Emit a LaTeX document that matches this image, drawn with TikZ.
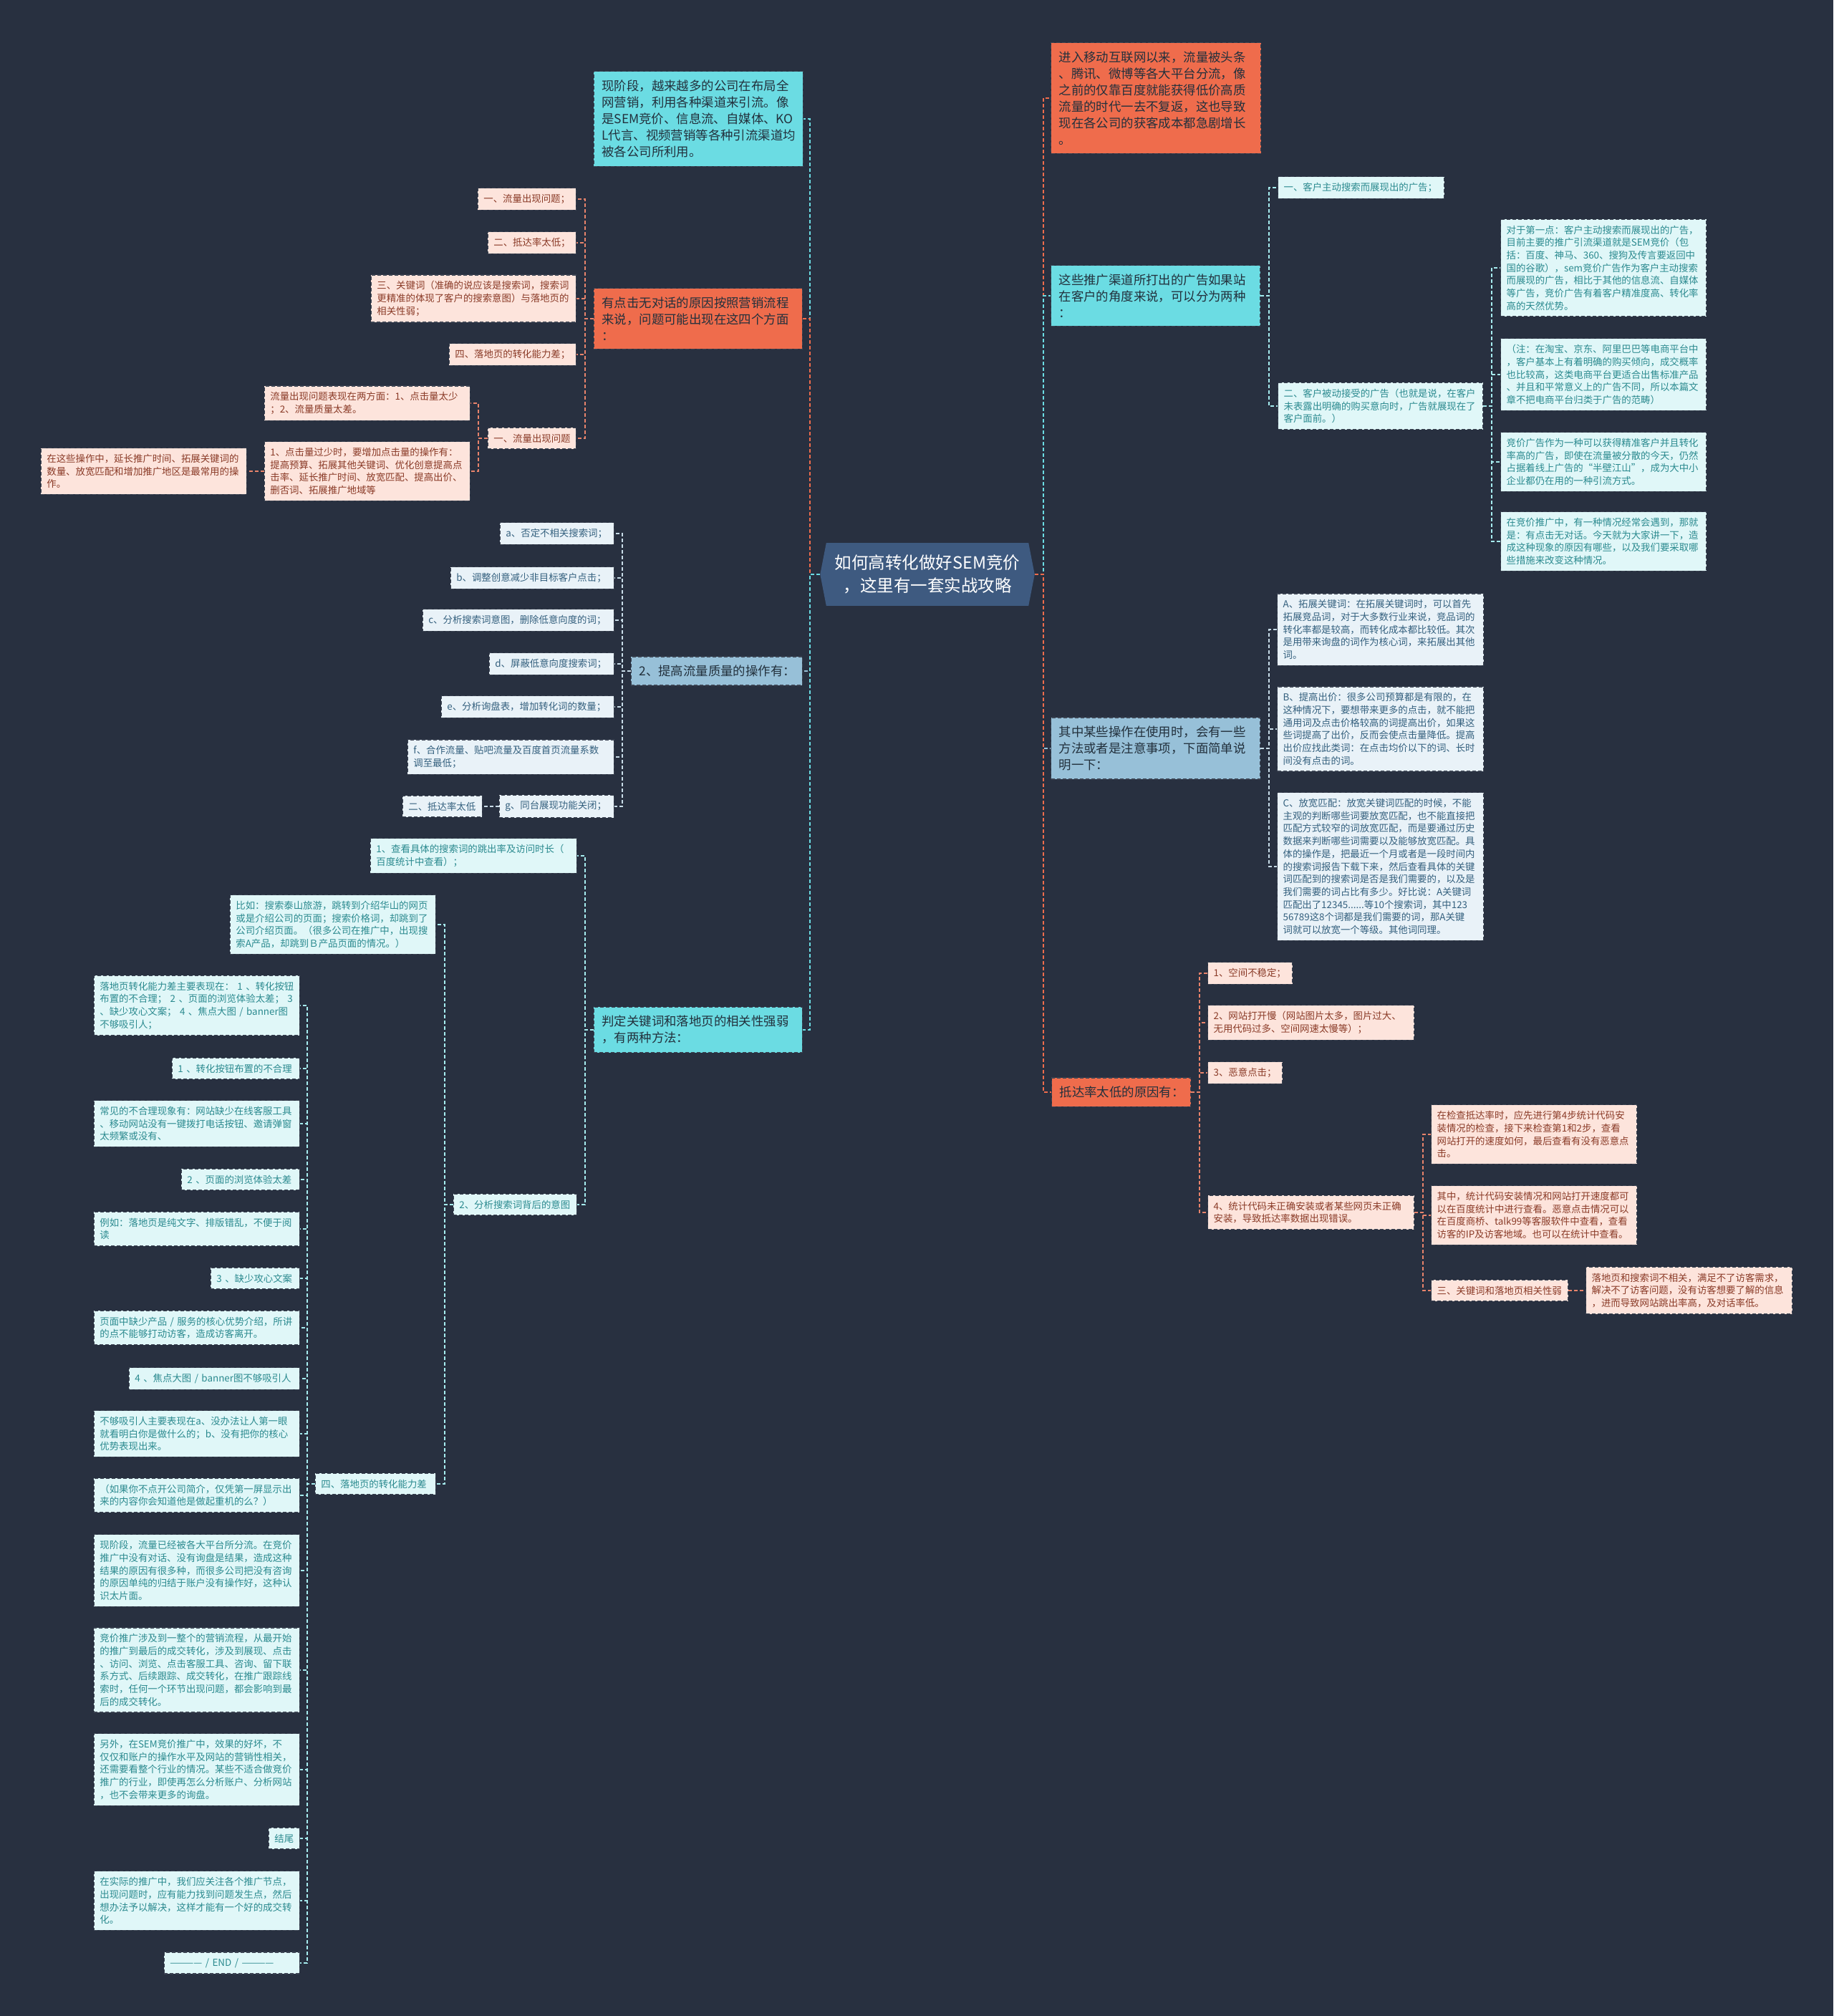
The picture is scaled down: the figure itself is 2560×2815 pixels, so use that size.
\documentclass[tikz,border=0pt]{standalone}
\usepackage{fontspec}
\setmainfont{Noto Sans CJK SC}
\usetikzlibrary{shapes.symbols,positioning}

\definecolor{bgc}{HTML}{283040}
\definecolor{rootc}{HTML}{3E5A80}
\definecolor{rimc}{HTML}{3B4352}
\definecolor{cyanM}{HTML}{6BDCE3}
\definecolor{orgM}{HTML}{EF6C4C}
\definecolor{bluM}{HTML}{97C0D8}
\definecolor{mainT}{HTML}{22303C}
\definecolor{cyanL}{HTML}{E0F7F8}
\definecolor{pinkL}{HTML}{FDE4DC}
\definecolor{bluL}{HTML}{E9F2F8}
\definecolor{cyanT}{HTML}{2B8A8F}
\definecolor{pinkT}{HTML}{8A3A27}
\definecolor{bluT}{HTML}{34607E}
\definecolor{cyanE}{HTML}{A6ECEF}
\definecolor{orgE}{HTML}{E8836B}
\definecolor{bluE}{HTML}{C8DCE8}

\tikzset{
  tw/.style={text width=#1pt},
  root/.style={signal, signal to=west and east, signal pointer angle=158, fill=rootc,
    text=white, align=center, inner xsep=12pt, inner ysep=17pt,
    font=\fontsize{23.5}{31.5}\selectfont},
  main/.style={draw=rimc, dash pattern=on 5pt off 3pt, line width=1.2pt, align=left,
    inner xsep=11pt, inner ysep=12pt, text=mainT, font=\fontsize{17.4}{23}\selectfont},
  mcyan/.style={main, fill=cyanM},
  morg/.style={main, fill=orgM},
  mblu/.style={main, fill=bluM},
  leaf/.style={draw=rimc, dash pattern=on 5pt off 3pt, line width=1.2pt, align=left,
    inner xsep=8pt, inner ysep=8.5pt, font=\fontsize{13.4}{17.7}\selectfont},
  lcyan/.style={leaf, fill=cyanL, text=cyanT},
  lpink/.style={leaf, fill=pinkL, text=pinkT},
  lblu/.style={leaf, fill=bluL, text=bluT},
  link/.style={dash pattern=on 5pt off 3pt, line width=1.7pt},
  ccyan/.style={link, draw=cyanM},
  corg/.style={link, draw=orgM},
  cblu/.style={link, draw=bluM},
  ecyan/.style={link, draw=cyanE},
  eorg/.style={link, draw=orgE},
  eblu/.style={link, draw=bluE}
}

\begin{document}
\begin{tikzpicture}[x=1pt, y=-1pt]
\fill[bgc] (0,0) rectangle (2560,2815);
\useasboundingbox (0,0) rectangle (2560,2815);

\node[root] (Root) at (1295,802) {如何高转化做好SEM竞价\\，这里有一套实战攻略};

\node[mcyan, tw=270, anchor=east] (M1) at (1122,166) {现阶段，越来越多的公司在布局全\\网营销，利用各种渠道来引流。像\\是SEM竞价、信息流、自媒体、KO\\L代言、视频营销等各种引流渠道均\\被各公司所利用。};
\draw[ccyan] (Root.west) -- ++(-14,0) |- (M1.east);

\node[morg, tw=269, anchor=east] (M2) at (1121,445) {有点击无对话的原因按照营销流程\\来说，问题可能出现在这四个方面\\：};
\draw[corg] (Root.west) -- ++(-14,0) |- (M2.east);
\node[lpink, tw=121, anchor=east] (P1) at (805,278) {一、流量出现问题；};
\node[lpink, tw=107, anchor=east] (P2) at (805,339) {二、抵达率太低；};
\node[lpink, tw=270, anchor=east] (P3) at (805,417) {三、关键词（准确的说应该是搜索词，搜索词\\更精准的体现了客户的搜索意图）与落地页的\\相关性弱；};
\node[lpink, tw=161, anchor=east] (P4) at (805,495) {四、落地页的转化能力差；};
\node[lpink, tw=107, anchor=east] (P5) at (805,612) {一、流量出现问题};
\foreach \n in {P1,P2,P3,P4,P5}
  \draw[eorg] (M2.west) -- ++(-12,0) |- (\n.east);
\node[lpink, tw=271, anchor=east] (P5a) at (657,563) {流量出现问题表现在两方面：1、点击量太少\\；2、流量质量太差。};
\node[lpink, tw=271, anchor=east] (P5b) at (657,658) {1、点击量过少时，要增加点击量的操作有：\\提高预算、拓展其他关键词、优化创意提高点\\击率、延长推广时间、放宽匹配、提高出价、\\删否词、拓展推广地域等};
\draw[eorg] (P5.west) -- ++(-13,0) |- (P5a.east);
\draw[eorg] (P5.west) -- ++(-13,0) |- (P5b.east);
\node[lpink, tw=271, anchor=east] (P5c) at (345,658) {在这些操作中，延长推广时间、拓展关键词的\\数量、放宽匹配和增加推广地区是最常用的操\\作。};
\draw[eorg] (P5b.west) -- (P5c.east);

\node[mblu, tw=217, anchor=east] (M3) at (1121,937) {2、提高流量质量的操作有：};
\draw[cblu] (Root.west) -- ++(-14,0) |- (M3.east);
\node[lblu, tw=143, anchor=east] (Ga) at (858,745) {a、否定不相关搜索词；};
\node[lblu, tw=212, anchor=east] (Gb) at (858,807) {b、调整创意减少非目标客户点击；};
\node[lblu, tw=251, anchor=east] (Gc) at (858,866) {c、分析搜索词意图，删除低意向度的词；};
\node[lblu, tw=158, anchor=east] (Gd) at (858,927) {d、屏蔽低意向度搜索词；};
\node[lblu, tw=225, anchor=east] (Ge) at (858,987) {e、分析询盘表，增加转化词的数量；};
\node[lblu, tw=272, anchor=east] (Gf) at (858,1057) {f、合作流量、贴吧流量及百度首页流量系数\\调至最低；};
\node[lblu, tw=144, anchor=east] (Gg) at (858,1126) {g、同台展现功能关闭；};
\foreach \n in {Ga,Gb,Gc,Gd,Ge,Gf,Gg}
  \draw[eblu] (M3.west) -- ++(-12,0) |- (\n.east);
\node[lblu, tw=95, anchor=east] (Gh) at (674,1126) {二、抵达率太低};
\draw[eblu] (Gg.west) -- (Gh.east);

\node[mcyan, tw=269, anchor=east] (M4) at (1121,1438) {判定关键词和落地页的相关性强弱\\，有两种方法：};
\draw[ccyan] (Root.west) -- ++(-14,0) |- (M4.east);
\node[lcyan, tw=272, anchor=east] (Q1) at (806,1195) {1、查看具体的搜索词的跳出率及访问时长（\\百度统计中查看）；};
\node[lcyan, tw=156, anchor=east] (Q2) at (806,1682) {2、分析搜索词背后的意图};
\draw[ecyan] (M4.west) -- ++(-12,0) |- (Q1.east);
\draw[ecyan] (M4.west) -- ++(-12,0) |- (Q2.east);
\node[lcyan, tw=271, anchor=east] (Q2a) at (609,1291) {比如：搜索泰山旅游，跳转到介绍华山的网页\\或是介绍公司的页面；搜索价格词，却跳到了\\公司介绍页面。（很多公司在推广中，出现搜\\索A产品，却跳到Ｂ产品页面的情况。）};
\node[lcyan, tw=152, anchor=east] (Q2b) at (609,2072) {四、落地页的转化能力差};
\draw[ecyan] (Q2.west) -- ++(-12,0) |- (Q2a.east);
\draw[ecyan] (Q2.west) -- ++(-12,0) |- (Q2b.east);

\node[lcyan, tw=271, anchor=east] (L1) at (419,1404) {落地页转化能力差主要表现在： 1 、转化按钮\\布置的不合理； 2 、页面的浏览体验太差； 3\\、缺少攻心文案； 4 、焦点大图 / banner图\\不够吸引人；};
\node[lcyan, tw=162, anchor=east] (L2) at (419,1492) {1 、转化按钮布置的不合理};
\node[lcyan, tw=271, anchor=east] (L3) at (419,1569) {常见的不合理现象有：网站缺少在线客服工具\\、移动网站没有一键拨打电话按钮、邀请弹窗\\太频繁或没有、};
\node[lcyan, tw=149, anchor=east] (L4) at (419,1647) {2 、页面的浏览体验太差};
\node[lcyan, tw=271, anchor=east] (L5) at (419,1716) {例如：落地页是纯文字、排版错乱，不便于阅\\读};
\node[lcyan, tw=108, anchor=east] (L6) at (419,1785) {3 、缺少攻心文案};
\node[lcyan, tw=271, anchor=east] (L7) at (419,1854) {页面中缺少产品 / 服务的核心优势介绍，所讲\\的点不能够打动访客，造成访客离开。};
\node[lcyan, tw=222, anchor=east] (L8) at (419,1925) {4 、焦点大图 / banner图不够吸引人};
\node[lcyan, tw=271, anchor=east] (L9) at (419,2002) {不够吸引人主要表现在a、没办法让人第一眼\\就看明白你是做什么的；b、没有把你的核心\\优势表现出来。};
\node[lcyan, tw=271, anchor=east] (L10) at (419,2088) {（如果你不点开公司简介，仅凭第一屏显示出\\来的内容你会知道他是做起重机的么？）};
\node[lcyan, tw=271, anchor=east] (L11) at (419,2193) {现阶段，流量已经被各大平台所分流。在竞价\\推广中没有对话、没有询盘是结果，造成这种\\结果的原因有很多种，而很多公司把没有咨询\\的原因单纯的归结于账户没有操作好，这种认\\识太片面。};
\node[lcyan, tw=271, anchor=east] (L12) at (419,2332) {竞价推广涉及到一整个的营销流程，从最开始\\的推广到最后的成交转化，涉及到展现、点击\\、访问、浏览、点击客服工具、咨询、留下联\\系方式、后续跟踪、成交转化，在推广跟踪线\\索时，任何一个环节出现问题，都会影响到最\\后的成交转化。};
\node[lcyan, tw=271, anchor=east] (L13) at (419,2471) {另外，在SEM竞价推广中，效果的好坏，不\\仅仅和账户的操作水平及网站的营销性相关，\\还需要看整个行业的情况。某些不适合做竞价\\推广的行业，即使再怎么分析账户、分析网站\\，也不会带来更多的询盘。};
\node[lcyan, tw=27, anchor=east] (L14) at (419,2567) {结尾};
\node[lcyan, tw=271, anchor=east] (L15) at (419,2654) {在实际的推广中，我们应关注各个推广节点，\\出现问题时，应有能力找到问题发生点，然后\\想办法予以解决，这样才能有一个好的成交转\\化。};
\node[lcyan, tw=173, anchor=east] (L16) at (419,2741) {———— / END / ————};
\foreach \n in {L1,L2,L3,L4,L5,L6,L7,L8,L9,L10,L11,L12,L13,L14,L15,L16}
  \draw[ecyan] (Q2b.west) -- ++(-11,0) |- (\n.east);

\node[morg, tw=271, anchor=west] (R1) at (1467,137) {进入移动互联网以来，流量被头条\\、腾讯、微博等各大平台分流，像\\之前的仅靠百度就能获得低价高质\\流量的时代一去不复返，这也导致\\现在各公司的获客成本都急剧增长\\。};
\draw[corg] (Root.east) -- ++(12,0) |- (R1.west);

\node[mcyan, tw=270, anchor=west] (R2) at (1467,413) {这些推广渠道所打出的广告如果站\\在客户的角度来说，可以分为两种\\：};
\draw[ccyan] (Root.east) -- ++(12,0) |- (R2.west);
\node[lcyan, tw=216, anchor=west] (R21) at (1784,262) {一、客户主动搜索而展现出的广告；};
\node[lcyan, tw=270, anchor=west] (R22) at (1784,567) {二、客户被动接受的广告（也就是说，在客户\\未表露出明确的购买意向时，广告就展现在了\\客户面前。）};
\draw[ecyan] (R2.east) -- ++(12,0) |- (R21.west);
\draw[ecyan] (R2.east) -- ++(12,0) |- (R22.west);
\node[lcyan, tw=271, anchor=west] (R22a) at (2095,374) {对于第一点：客户主动搜索而展现出的广告，\\目前主要的推广引流渠道就是SEM竞价（包\\括：百度、神马、360、搜狗及传言要返回中\\国的谷歌），sem竞价广告作为客户主动搜索\\而展现的广告，相比于其他的信息流、自媒体\\等广告，竞价广告有着客户精准度高、转化率\\高的天然优势。};
\node[lcyan, tw=271, anchor=west] (R22b) at (2095,523) {（注：在淘宝、京东、阿里巴巴等电商平台中\\，客户基本上有着明确的购买倾向，成交概率\\也比较高，这类电商平台更适合出售标准产品\\、并且和平常意义上的广告不同，所以本篇文\\章不把电商平台归类于广告的范畴）};
\node[lcyan, tw=271, anchor=west] (R22c) at (2095,645) {竞价广告作为一种可以获得精准客户并且转化\\率高的广告，即使在流量被分散的今天，仍然\\占据着线上广告的“半壁江山”，成为大中小\\企业都仍在用的一种引流方式。};
\node[lcyan, tw=271, anchor=west] (R22d) at (2095,756) {在竞价推广中，有一种情况经常会遇到，那就\\是：有点击无对话。今天就为大家讲一下，造\\成这种现象的原因有哪些，以及我们要采取哪\\些措施来改变这种情况。};
\foreach \n in {R22a,R22b,R22c,R22d}
  \draw[ecyan] (R22.east) -- ++(12,0) |- (\n.west);

\node[mblu, tw=270, anchor=west] (R3) at (1467,1045) {其中某些操作在使用时，会有一些\\方法或者是注意事项，下面简单说\\明一下：};
\draw[cblu] (Root.east) -- ++(12,0) |- (R3.west);
\node[lblu, tw=272, anchor=west] (RA) at (1783,879) {A、拓展关键词：在拓展关键词时，可以首先\\拓展竞品词，对于大多数行业来说，竞品词的\\转化率都是较高，而转化成本都比较低。其次\\是用带来询盘的词作为核心词，来拓展出其他\\词。};
\node[lblu, tw=272, anchor=west] (RB) at (1783,1018) {B、提高出价：很多公司预算都是有限的，在\\这种情况下，要想带来更多的点击，就不能把\\通用词及点击价格较高的词提高出价，如果这\\些词提高了出价，反而会使点击量降低。提高\\出价应找此类词：在点击均价以下的词、长时\\间没有点击的词。};
\node[lblu, tw=272, anchor=west] (RC) at (1783,1210) {C、放宽匹配：放宽关键词匹配的时候，不能\\主观的判断哪些词要放宽匹配，也不能直接把\\匹配方式较窄的词放宽匹配，而是要通过历史\\数据来判断哪些词需要以及能够放宽匹配。具\\体的操作是，把最近一个月或者是一段时间内\\的搜索词报告下载下来，然后查看具体的关键\\词匹配到的搜索词是否是我们需要的，以及是\\我们需要的词占比有多少。好比说：A关键词\\匹配出了12345......等10个搜索词，其中123\\56789这8个词都是我们需要的词，那A关键\\词就可以放宽一个等级。其他词同理。};
\foreach \n in {RA,RB,RC}
  \draw[eblu] (R3.east) -- ++(12,0) |- (\n.west);

\node[morg, tw=172, anchor=west] (R4) at (1468,1525) {抵达率太低的原因有：};
\draw[corg] (Root.east) -- ++(12,0) |- (R4.west);
\node[lpink, tw=102, anchor=west] (S1) at (1686,1359) {1、空间不稳定；};
\node[lpink, tw=272, anchor=west] (S2) at (1686,1428) {2、网站打开慢（网站图片太多，图片过大、\\无用代码过多、空间网速太慢等）；};
\node[lpink, tw=88, anchor=west] (S3) at (1686,1498) {3、恶意点击；};
\node[lpink, tw=272, anchor=west] (S4) at (1686,1693) {4、统计代码未正确安装或者某些网页未正确\\安装，导致抵达率数据出现错误。};
\foreach \n in {S1,S2,S3,S4}
  \draw[eorg] (R4.east) -- ++(12,0) |- (\n.west);
\node[lpink, tw=271, anchor=west] (S4a) at (1998,1584) {在检查抵达率时，应先进行第4步统计代码安\\装情况的检查，接下来检查第1和2步，查看\\网站打开的速度如何，最后查看有没有恶意点\\击。};
\node[lpink, tw=271, anchor=west] (S4b) at (1998,1697) {其中，统计代码安装情况和网站打开速度都可\\以在百度统计中进行查看。恶意点击情况可以\\在百度商桥、talk99等客服软件中查看，查看\\访客的IP及访客地域。也可以在统计中查看。};
\node[lpink, tw=175, anchor=west] (S4c) at (1998,1802) {三、关键词和落地页相关性弱};
\foreach \n in {S4a,S4b,S4c}
  \draw[eorg] (S4.east) -- ++(12,0) |- (\n.west);
\node[lpink, tw=272, anchor=west] (S4d) at (2214,1802) {落地页和搜索词不相关，满足不了访客需求，\\解决不了访客问题，没有访客想要了解的信息\\，进而导致网站跳出率高，及对话率低。};
\draw[eorg] (S4c.east) -- (S4d.west);
\end{tikzpicture}
\end{document}
